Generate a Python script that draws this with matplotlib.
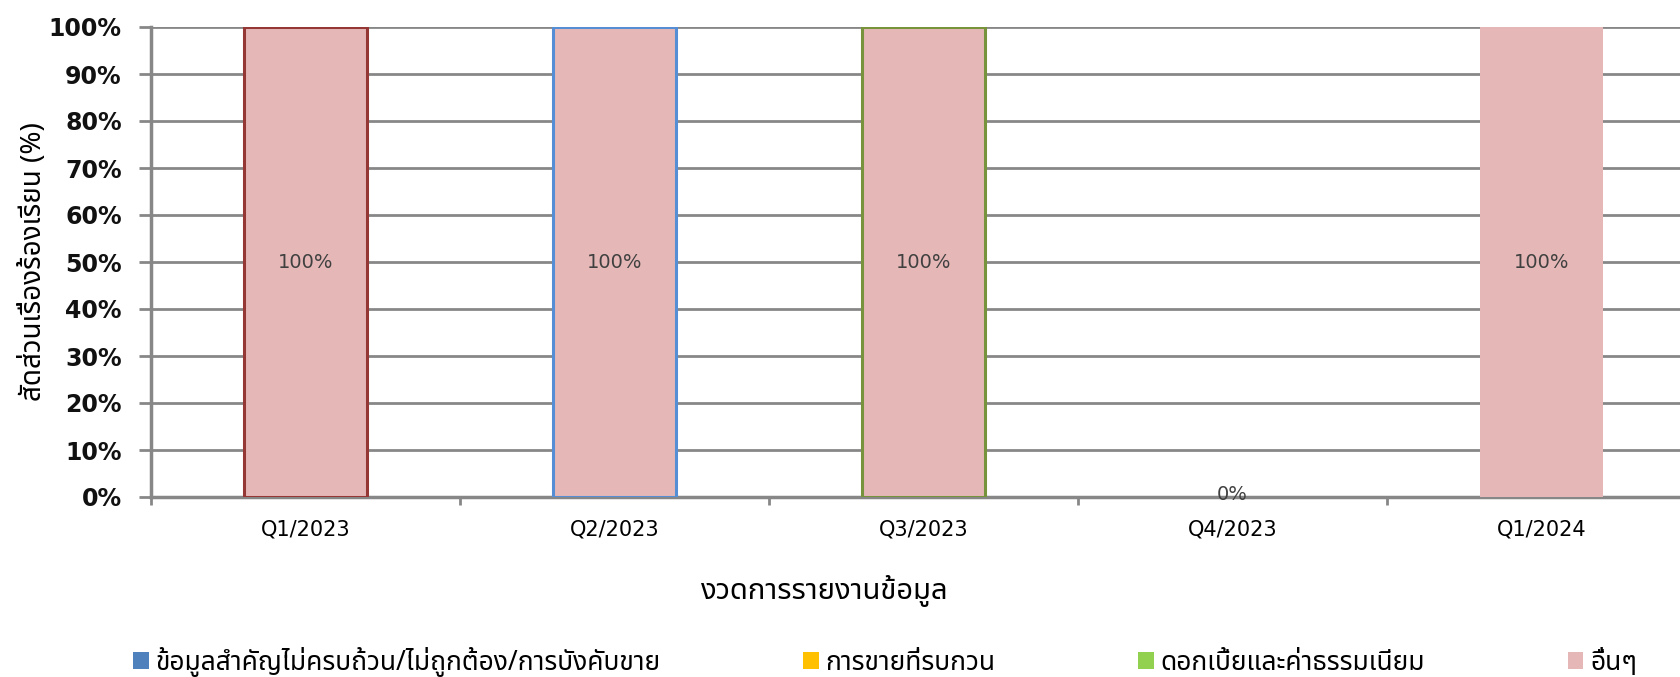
import matplotlib
matplotlib.use("Agg")
import matplotlib.pyplot as plt
from matplotlib import font_manager
from matplotlib.ft2font import FT2Font
from matplotlib.patches import Patch
import numpy as np

# ---------------- data ----------------
categories = ["Q1/2023", "Q2/2023", "Q3/2023", "Q4/2023", "Q1/2024"]
series_names = [
    "ข้อมูลสำคัญไม่ครบถ้วน/ไม่ถูกต้อง/การบังคับขาย",
    "การขายที่รบกวน",
    "ดอกเบี้ยและค่าธรรมเนียม",
    "อื่นๆ",
]
s_info = [0, 0, 0, 0, 0]
s_sales = [0, 0, 0, 0, 0]
s_fee = [0, 0, 0, 0, 0]
s_other = [100, 100, 100, 0, 100]
y_ticks = [0, 10, 20, 30, 40, 50, 60, 70, 80, 90, 100]
x_label = "งวดการรายงานข้อมูล"
y_label = "สัดส่วนเรื่องร้องเรียน (%)"

series_colors = ["#4F81BD", "#FFC000", "#92D050", "#E5B8B7"]
bar_edges = ["#953735", "#558ED5", "#77933C", "none", "none"]

# ---------------- fonts ----------------
def find_thai_font():
    prefs = ["Tahoma", "Leelawadee UI", "Noto Sans Thai", "Noto Sans Thai UI",
             "Loma", "Garuda", "Waree", "Umpush", "Sarabun", "Kinnari",
             "Norasi", "Laksaman", "Noto Serif Thai", "Noto Looped Thai"]
    found = []
    seen = set()
    for f in font_manager.fontManager.ttflist:
        if f.name in seen:
            continue
        try:
            cm = FT2Font(f.fname).get_charmap()
        except Exception:
            continue
        if 0x0E01 in cm and 0x0E2D in cm:
            found.append(f.name)
            seen.add(f.name)
    for p in prefs:
        if p in found:
            return p
    return found[0] if found else None

thai = find_thai_font()
fam = ([thai] if thai else []) + ["DejaVu Sans"]
plt.rcParams["font.family"] = fam

# ---------------- figure ----------------
W, H = 1680, 677
fig = plt.figure(figsize=(W / 100, H / 100), dpi=100)
ax = fig.add_axes([151 / W, 1 - 497 / H, 1545 / W, 470 / H])

x = np.arange(len(categories))
bw = 0.40
grid_c = "#878787"

bottom = np.zeros(len(categories))
all_series = [s_info, s_sales, s_fee, s_other]
for name, vals, col in zip(series_names, all_series, series_colors):
    vals = np.array(vals, dtype=float)
    bars = ax.bar(x, vals, bw, bottom=bottom, color=col, label=name,
                  zorder=3, linewidth=0)
    if name == series_names[-1]:
        for b, ec, v in zip(bars, bar_edges, vals):
            if ec != "none" and v > 0:
                b.set_edgecolor(ec)
                b.set_linewidth(2.2)
        for xi, v, b0 in zip(x, vals, bottom):
            ax.text(xi, b0 + v / 2 if v > 0 else 0.6, f"{v:.0f}%",
                    ha="center", va="center", fontsize=14,
                    color="#404040", zorder=5, family=["DejaVu Sans"])
    bottom += vals

ax.set_xlim(-0.5, len(categories) - 0.5)
ax.set_ylim(0, 100)
ax.set_yticks(y_ticks)
ax.set_yticklabels([f"{t}%" for t in y_ticks], fontsize=17,
                   fontweight="bold", family=["DejaVu Sans"], color="#111111")
ax.yaxis.grid(True, color=grid_c, linewidth=2, zorder=0)
ax.set_axisbelow(True)

# x ticks: labels at centres, marks at boundaries
ax.set_xticks(x)
ax.set_xticklabels(categories, fontsize=15, family=["DejaVu Sans"])
ax.tick_params(axis="x", which="major", length=0, pad=16)
ax.set_xticks(np.arange(-0.5, len(categories)), minor=True)
ax.tick_params(axis="x", which="minor", length=6, width=2, color=grid_c,
               direction="out")
ax.tick_params(axis="y", length=9, width=2, color=grid_c, pad=12)

for s in ["top", "right"]:
    ax.spines[s].set_visible(False)
ax.spines["left"].set_color(grid_c)
ax.spines["left"].set_linewidth(2.5)
ax.spines["bottom"].set_color(grid_c)
ax.spines["bottom"].set_linewidth(2.5)

ax.set_xlabel(x_label, fontsize=21, fontweight="bold")
ax.xaxis.set_label_coords((825 - 151) / 1545, -(575 - 497) / 470)
ax.set_ylabel(y_label, fontsize=20, fontweight="bold")
ax.yaxis.set_label_coords(-(151 - 48) / 1545, 0.5)

handles = [Patch(facecolor=c, edgecolor="none") for c in series_colors]
fig.legend(handles, series_names, loc="center",
           bbox_to_anchor=(885 / W, 1 - 662 / H),
           ncol=4, frameon=False, fontsize=19, handlelength=0.6,
           handleheight=0.6, handletextpad=0.25, columnspacing=5.4)

fig.savefig("out.png", dpi=100)
